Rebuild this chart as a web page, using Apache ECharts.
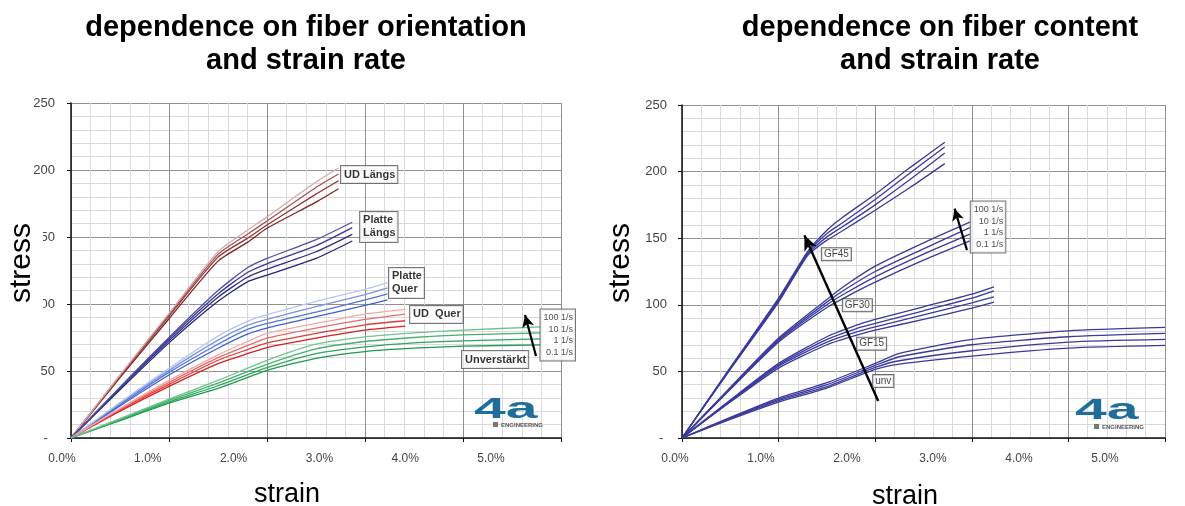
<!DOCTYPE html>
<html>
<head>
<meta charset="utf-8">
<script src="https://cdn.jsdelivr.net/npm/echarts@6/dist/echarts.min.js"></script>
<style>html,body{margin:0;padding:0;background:#fff;}#c{width:1185px;height:506px;}</style>
</head>
<body>
<div id="c"></div>
<script>
// ---------- tick labels / categories ----------
const xTicks = [0, 1, 2, 3, 4, 5];          // strain in %
const yTicks = [0, 50, 100, 150, 200, 250]; // stress
const rateNames = ['0.1 1/s', '1 1/s', '10 1/s', '100 1/s'];

// ---------- left chart: fiber orientation ----------
const udLaengsStrain = [0, 0.5, 1.0, 1.5, 1.8, 2.0, 2.5, 2.73];
const udLaengs01  = [0, 45, 89, 132, 146, 156.5, 176, 186];
const udLaengs1   = [0, 46, 91, 135, 149, 159, 182, 192];
const udLaengs10  = [0, 46.5, 92, 137, 152, 162, 187, 197];
const udLaengs100 = [0, 47, 93, 139, 155, 165, 191, 201.5];

const platteLaengsStrain = [0, 0.5, 1.0, 1.5, 1.8, 2.0, 2.5, 2.87];
const platteLaengs01  = [0, 36, 71, 102, 116.5, 121.5, 134, 147];
const platteLaengs1   = [0, 37, 72.5, 105, 120, 126, 139, 152];
const platteLaengs10  = [0, 37.5, 74, 107.5, 123.5, 130, 143.5, 157];
const platteLaengs100 = [0, 38, 75, 110, 127, 134, 148, 161];

const platteQuerStrain = [0, 0.5, 1.0, 1.5, 1.8, 2.0, 2.5, 3.0, 3.23];
const platteQuer01  = [0, 24, 47, 67, 77.5, 82, 90.5, 99, 103];
const platteQuer1   = [0, 25, 49, 70, 81, 85.5, 94, 103, 107.5];
const platteQuer10  = [0, 26, 50.5, 73, 84, 88.5, 98, 107, 112];
const platteQuer100 = [0, 26.5, 52, 76, 87, 92, 102, 111, 116];

const udQuerStrain = [0, 0.5, 1.0, 1.5, 1.8, 2.0, 2.5, 3.0, 3.41];
const udQuer01  = [0, 20, 38.5, 55.5, 63, 67.5, 74.5, 80.5, 83.5];
const udQuer1   = [0, 21, 40, 58, 66, 71, 78, 84.5, 87.5];
const udQuer10  = [0, 21.5, 41.5, 60, 69, 74.5, 82, 88.5, 92.5];
const udQuer100 = [0, 22, 43, 62, 72, 78, 85.5, 92.5, 96];

const unverStrain = [0, 0.5, 1.0, 1.5, 2.0, 2.5, 3.0, 3.5, 4.0, 4.8];
const unver01  = [0, 13, 26, 37, 50.5, 59.5, 64.5, 67, 68.5, 69.5];
const unver1   = [0, 13.5, 27, 39, 52.5, 63, 68, 71, 72.5, 74];
const unver10  = [0, 14, 28, 41, 55, 66.5, 72, 75, 77, 78.5];
const unver100 = [0, 14.5, 29, 43, 58, 70, 75.5, 78.5, 80.5, 83];

// ---------- right chart: fiber content ----------
const gf45Strain = [0, 0.5, 1.0, 1.3, 1.5, 1.65, 2.0, 2.36, 2.72];
const gf45_01  = [0, 51.5, 102, 137, 148.5, 155, 171, 188, 206];
const gf45_1   = [0, 52, 103, 138, 151, 158, 175, 194, 214];
const gf45_10  = [0, 52.5, 104, 139, 153.5, 161, 179, 199, 218.5];
const gf45_100 = [0, 53, 105, 140, 156, 165, 183, 203, 222];

const gf30Strain = [0, 0.5, 1.0, 1.5, 1.7, 2.0, 2.5, 2.98];
const gf30_01  = [0, 36.5, 72, 98, 106, 117, 133.5, 148];
const gf30_1   = [0, 37, 73, 100, 109, 121, 138, 153];
const gf30_10  = [0, 37.5, 74, 102, 112, 125, 142, 158];
const gf30_100 = [0, 38, 75, 104, 115, 129, 146.5, 162];

const gf15Strain = [0, 0.5, 1.0, 1.5, 1.8, 2.0, 2.5, 3.0, 3.23];
const gf15_01  = [0, 27, 52.5, 70, 77, 81, 89, 97.5, 102];
const gf15_1   = [0, 27.5, 54, 72, 79.5, 83.5, 92.5, 101.5, 106];
const gf15_10  = [0, 28, 55, 74, 82, 86, 95.5, 105, 110.5];
const gf15_100 = [0, 28.5, 56, 76, 84.5, 89, 98.5, 108, 113.5];

const unvStrain = [0, 0.5, 1.0, 1.5, 2.0, 2.25, 3.0, 4.0, 5.0];
const unv_01  = [0, 14, 27, 37.5, 51.5, 55.5, 61.5, 67.5, 69.5];
const unv_1   = [0, 14.5, 28, 38.5, 53, 58, 65.5, 72, 74];
const unv_10  = [0, 15, 29, 40, 54.5, 61, 70, 76, 78.5];
const unv_100 = [0, 15.5, 30, 41.5, 56, 63.5, 74, 80.5, 83];

// ---------- annotations (data coordinates) ----------
const leftNotes = [
  [2.755, 196.6, 'UD Längs'],
  [2.95, 157.5, 'Platte\nLängs'],
  [3.245, 115.7, 'Platte\nQuer'],
  [3.46, 92.2, 'UD  Quer'],
  [3.99, 58.6, 'Unverstärkt']
];
const leftRateBox = [5.143, 76.9];
const leftArrow = [[4.745, 61.2], [4.633, 91.8]];

const rightNotes = [
  [1.448, 138.0, 'GF45'],
  [1.665, 99.7, 'GF30'],
  [1.813, 70.8, 'GF15'],
  [1.979, 42.7, 'unv']
];
const rightRateBox = [3.347, 158.4];
const rightArrowBig = [[2.031, 27.8], [1.267, 152.2]];
const rightArrowSmall = [[2.95, 141.0], [2.822, 172.2]];

// ---------- build ----------
const FONT = '"Liberation Sans", Arial, sans-serif';
const zip = (xs, ys) => xs.map((x, i) => [x, ys[i]]);

const leftGroups = [
  { strain: udLaengsStrain, sets: [udLaengs01, udLaengs1, udLaengs10, udLaengs100], colors: ['#7b2424', '#8f3434', '#a85252', '#d9a9a9'] },
  { strain: platteLaengsStrain, sets: [platteLaengs01, platteLaengs1, platteLaengs10, platteLaengs100], colors: ['#262678', '#2e2e86', '#3a3a92', '#5050a2'] },
  { strain: platteQuerStrain, sets: [platteQuer01, platteQuer1, platteQuer10, platteQuer100], colors: ['#3f5fcf', '#5573d6', '#7a93e0', '#b5c6f0'] },
  { strain: udQuerStrain, sets: [udQuer01, udQuer1, udQuer10, udQuer100], colors: ['#d81e1e', '#e03c3c', '#e86a6a', '#f2a8a8'] },
  { strain: unverStrain, sets: [unver01, unver1, unver10, unver100], colors: ['#1f9a4f', '#2ea65c', '#45b06d', '#6dc48d'] }
];
const navy = '#3a3a9c';
const rightGroups = [
  { strain: gf45Strain, sets: [gf45_01, gf45_1, gf45_10, gf45_100], colors: [navy, navy, navy, navy] },
  { strain: gf30Strain, sets: [gf30_01, gf30_1, gf30_10, gf30_100], colors: [navy, navy, navy, navy] },
  { strain: gf15Strain, sets: [gf15_01, gf15_1, gf15_10, gf15_100], colors: [navy, navy, navy, navy] },
  { strain: unvStrain, sets: [unv_01, unv_1, unv_10, unv_100], colors: [navy, navy, navy, navy] }
];

const series = [];
function addGroups(groups, axisIdx) {
  groups.forEach(g => {
    g.sets.forEach((s, i) => {
      series.push({
        type: 'line', xAxisIndex: axisIdx, yAxisIndex: axisIdx,
        name: rateNames[i], data: zip(g.strain, s), showSymbol: false, symbol: 'none',
        smooth: 0.2, silent: true,
        lineStyle: { color: g.colors[i], width: 1.3 }, z: 3
      });
    });
  });
}
addGroups(leftGroups, 0);
addGroups(rightGroups, 2);

function arrowLine(a, b, w, size) {
  return [{ coord: a, symbol: 'none', lineStyle: { width: w, color: '#000', type: 'solid' } },
          { coord: b, symbol: 'arrow', symbolSize: size }];
}

const bigLabel = {
  show: true, position: 'right', distance: 0, formatter: p => p.value[2],
  fontFamily: FONT, fontWeight: 'bold', fontSize: 11, color: '#000', lineHeight: 13,
  backgroundColor: '#fff', borderColor: '#555', borderWidth: 1, padding: [2, 2, 2, 3]
};
const smallLabel = {
  show: true, position: 'right', distance: 0, formatter: p => p.value[2],
  fontFamily: FONT, fontSize: 10, color: '#111', lineHeight: 11,
  backgroundColor: '#fff', borderColor: '#444', borderWidth: 1, padding: [1, 2, 0, 2]
};
const rateLabel = {
  show: true, position: 'left', distance: 0, formatter: () => rateNames.slice().reverse().join('\n'),
  fontFamily: FONT, fontSize: 9, color: '#222', lineHeight: 11.5, align: 'right',
  backgroundColor: '#fff', borderColor: '#555', borderWidth: 1, padding: [3, 2, 2, 3]
};

// left annotations
series.push({
  type: 'scatter', xAxisIndex: 0, yAxisIndex: 0, symbolSize: 0, silent: true, clip: false, z: 10,
  data: leftNotes, label: bigLabel,
  markLine: { silent: true, animation: false, label: { show: false }, symbol: ['none', 'arrow'],
    data: [arrowLine(leftArrow[0], leftArrow[1], 2.2, [9, 12])] }
});
series.push({
  type: 'scatter', xAxisIndex: 0, yAxisIndex: 0, symbolSize: 0, silent: true, clip: false, z: 10,
  data: [leftRateBox.concat([''])], label: rateLabel
});
// right annotations
series.push({
  type: 'scatter', xAxisIndex: 2, yAxisIndex: 2, symbolSize: 0, silent: true, clip: false, z: 10,
  data: rightNotes, label: smallLabel,
  markLine: { silent: true, animation: false, label: { show: false }, symbol: ['none', 'arrow'],
    data: [arrowLine(rightArrowBig[0], rightArrowBig[1], 2.4, [10, 15]),
           arrowLine(rightArrowSmall[0], rightArrowSmall[1], 2.2, [9, 12])] }
});
series.push({
  type: 'scatter', xAxisIndex: 2, yAxisIndex: 2, symbolSize: 0, silent: true, clip: false, z: 10,
  data: [rightRateBox.concat([''])], label: rateLabel
});

function mainX(grid) {
  return {
    gridIndex: grid, type: 'value', min: xTicks[0], max: xTicks[xTicks.length - 1], interval: 1,
    axisLine: { lineStyle: { color: '#111', width: 1.5 } },
    axisTick: { show: true, length: 4, lineStyle: { color: '#111' } },
    axisLabel: { show: false },
    splitLine: { show: true, lineStyle: { color: '#909090', width: 1 } },
    minorTick: { show: false, splitNumber: 5 },
    minorSplitLine: { show: true, lineStyle: { color: '#dadada', width: 1 } }
  };
}
function mainY(grid, zeroLabel, margin) {
  return {
    gridIndex: grid, type: 'value', min: yTicks[0], max: yTicks[yTicks.length - 1], interval: 50,
    axisLine: { show: true, lineStyle: { color: '#111', width: 1.5 } },
    axisTick: { show: true, length: 4, lineStyle: { color: '#111' } },
    axisLabel: { margin: margin, fontFamily: FONT, fontSize: 13, color: '#444',
      formatter: v => v === 0 ? zeroLabel : String(v) },
    splitLine: { show: true, lineStyle: { color: '#909090', width: 1 } },
    minorTick: { show: false, splitNumber: 5 },
    minorSplitLine: { show: true, lineStyle: { color: '#dadada', width: 1 } }
  };
}
function labelX(grid) {
  return {
    gridIndex: grid, type: 'value', min: xTicks[0], max: xTicks[xTicks.length - 1], interval: 1,
    axisLine: { show: false }, axisTick: { show: false }, splitLine: { show: false },
    axisLabel: { margin: 15, fontFamily: FONT, fontSize: 12, color: '#444', showMaxLabel: true, showMinLabel: true,
      formatter: v => v.toFixed(1) + '%' }
  };
}
function hiddenY(grid) {
  return { gridIndex: grid, type: 'value', show: false, min: 0, max: 1 };
}

const option = {
  animation: false,
  backgroundColor: '#fff',
  textStyle: { fontFamily: FONT },
  grid: [
    { left: 71, right: 624, top: 103, bottom: 68 },
    { left: 62, right: 694, top: 103, bottom: 68 },
    { left: 682, right: 20, top: 105, bottom: 68 },
    { left: 675, right: 80, top: 105, bottom: 68 }
  ],
  xAxis: [mainX(0), labelX(1), mainX(2), labelX(3)],
  yAxis: [mainY(0, '-  ', 16), hiddenY(1), mainY(2, '- ', 15), hiddenY(3)],
  series: series,
  graphic: [
    { type: 'text', x: 306, y: 11, z: 100, style: { text: 'dependence on fiber orientation\nand strain rate',
      font: 'bold 29px ' + FONT, fill: '#000', align: 'center', verticalAlign: 'top', lineHeight: 33 } },
    { type: 'text', x: 940, y: 11, z: 100, style: { text: 'dependence on fiber content\nand strain rate',
      font: 'bold 29px ' + FONT, fill: '#000', align: 'center', verticalAlign: 'top', lineHeight: 33 } },
    { type: 'text', x: 22, y: 263, rotation: Math.PI / 2, z: 100, style: { text: 'stress',
      font: '30px ' + FONT, fill: '#000', align: 'center', verticalAlign: 'middle',
      backgroundColor: '#fff', padding: [6, 10, 6, 10] } },
    { type: 'text', x: 621, y: 263, rotation: Math.PI / 2, z: 100, style: { text: 'stress',
      font: '30px ' + FONT, fill: '#000', align: 'center', verticalAlign: 'middle' } },
    { type: 'text', x: 287, y: 495, z: 100, style: { text: 'strain',
      font: '27px ' + FONT, fill: '#000', align: 'center', verticalAlign: 'middle' } },
    { type: 'text', x: 905, y: 497, z: 100, style: { text: 'strain',
      font: '27px ' + FONT, fill: '#000', align: 'center', verticalAlign: 'middle' } },
    // logos
    { type: 'text', x: 474, y: 410, scaleX: 1.9, z: 100, style: { text: '4a',
      font: 'bold 30px ' + FONT, fill: '#1f6d9a', align: 'left', verticalAlign: 'middle' } },
    { type: 'rect', z: 100, shape: { x: 493, y: 422, width: 5, height: 5 }, style: { fill: '#777' } },
    { type: 'text', x: 501, y: 425, z: 100, style: { text: 'ENGINEERING',
      font: 'bold 6px ' + FONT, fill: '#555', align: 'left', verticalAlign: 'middle' } },
    { type: 'text', x: 1075, y: 411, scaleX: 1.9, z: 100, style: { text: '4a',
      font: 'bold 30px ' + FONT, fill: '#1f6d9a', align: 'left', verticalAlign: 'middle' } },
    { type: 'rect', z: 100, shape: { x: 1094, y: 424, width: 5, height: 5 }, style: { fill: '#777' } },
    { type: 'text', x: 1102, y: 427, z: 100, style: { text: 'ENGINEERING',
      font: 'bold 6px ' + FONT, fill: '#555', align: 'left', verticalAlign: 'middle' } }
  ]
};

const chart = echarts.init(document.getElementById('c'), null, { renderer: 'canvas' });
chart.setOption(option);
</script>
</body>
</html>
